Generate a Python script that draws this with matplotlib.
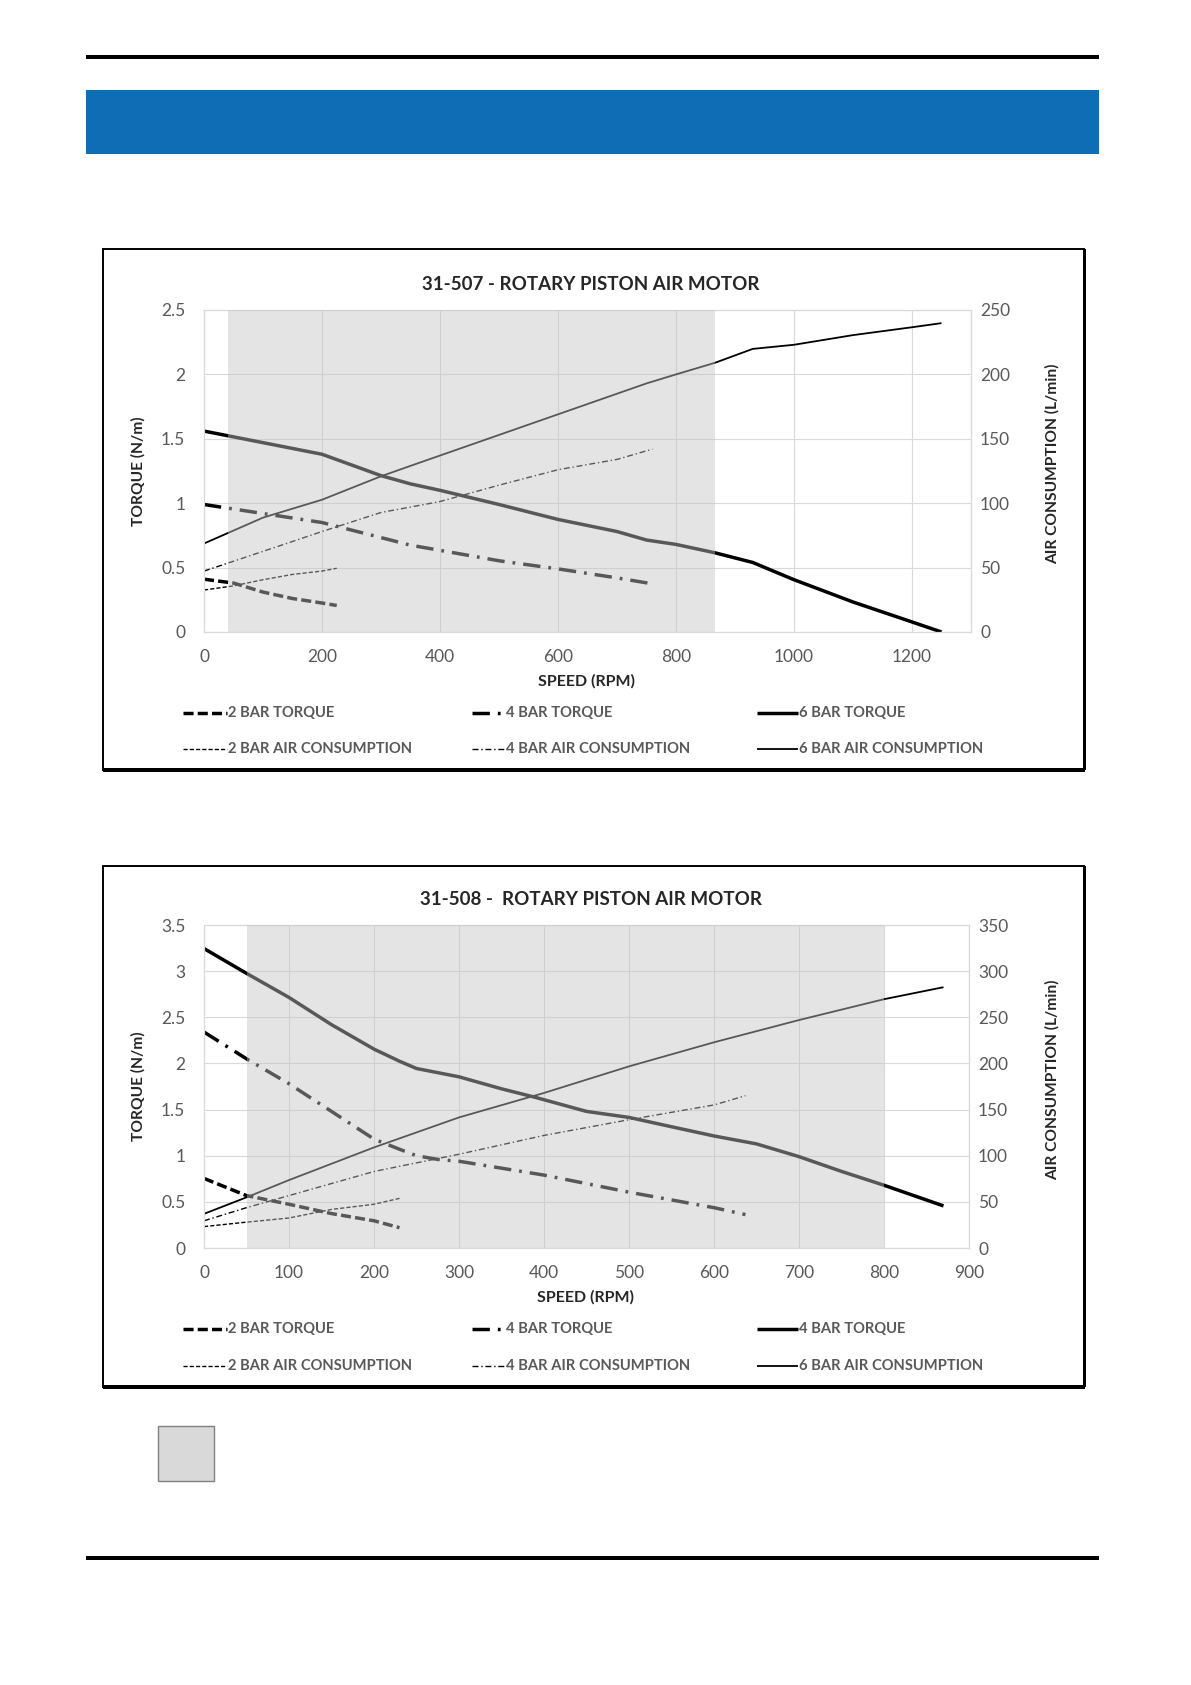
import matplotlib
matplotlib.use('Agg')
import matplotlib.pyplot as plt
from matplotlib.lines import Line2D
from matplotlib.patches import Rectangle

W, H = 1191, 1685

# ---- 31-507 data ----
speed_2bar_507 = [0, 50, 100, 150, 200, 225]
torque_2bar_507 = [0.41, 0.38, 0.31, 0.26, 0.225, 0.206]
air_2bar_507 = [32.6, 35.8, 40.6, 44.7, 47.3, 49.5]

speed_4bar_507 = [0, 100, 200, 300, 350, 400, 500, 600, 700, 760]
torque_4bar_507 = [0.99, 0.92, 0.85, 0.733, 0.674, 0.634, 0.553, 0.49, 0.42, 0.374]
air_4bar_507 = [47.3, 62.6, 78, 92.8, 97, 101.3, 114, 126, 134, 142]

speed_6bar_507 = [0, 100, 200, 300, 350, 400, 500, 600, 700, 750, 800, 866, 930, 1000, 1100, 1200, 1250]
torque_6bar_507 = [1.56, 1.47, 1.38, 1.214, 1.15, 1.10, 0.99, 0.874, 0.78, 0.714, 0.68, 0.615, 0.54,
                   0.406, 0.233, 0.078, 0.0]
air_6bar_507 = [68.7, 88.8, 102.7, 120.9, 129, 137, 153, 169, 185, 193, 200, 209, 219.8, 223,
                230.5, 236.6, 239.8]

# ---- 31-508 data ----
speed_2bar_508 = [0, 50, 100, 150, 200, 230]
torque_2bar_508 = [0.754, 0.568, 0.474, 0.373, 0.295, 0.22]
air_2bar_508 = [23.2, 28, 32.5, 41.8, 47.4, 53.8]

speed_4bar_508 = [0, 50, 100, 150, 200, 230, 250, 275, 300, 400, 500, 600, 637]
torque_4bar_508 = [2.34, 2.05, 1.78, 1.48, 1.18, 1.07, 1.0, 0.96, 0.94, 0.79, 0.605, 0.437, 0.362]
speed_4bar_air_508 = [0, 50, 100, 200, 300, 400, 500, 600, 637]
air_4bar_508 = [29.5, 43.7, 56.8, 82.9, 101.6, 122, 139, 155, 165]

speed_6bar_508 = [0, 50, 100, 150, 200, 230, 250, 300, 350, 390, 450, 500, 550, 600, 650, 700, 750, 800, 870]
torque_6bar_508 = [3.245, 2.976, 2.715, 2.42, 2.155, 2.024, 1.945, 1.855, 1.725, 1.632, 1.48, 1.415,
                   1.314, 1.214, 1.128, 0.99, 0.83, 0.68, 0.456]
speed_6bar_air_508 = [0, 50, 100, 200, 300, 400, 500, 600, 700, 800, 870]
air_6bar_508 = [37, 54.9, 73.6, 109, 141.5, 168, 196.8, 222.9, 247, 269.6, 282.6]

labels_507 = ['2 BAR TORQUE', '4 BAR TORQUE', '6 BAR TORQUE',
              '2 BAR AIR CONSUMPTION', '4 BAR AIR CONSUMPTION', '6 BAR AIR CONSUMPTION']
labels_508 = ['2 BAR TORQUE', '4 BAR TORQUE', '4 BAR TORQUE',
              '2 BAR AIR CONSUMPTION', '4 BAR AIR CONSUMPTION', '6 BAR AIR CONSUMPTION']

STYLES = [
    dict(lw=2.5, dashes=(2.9, 1.2)),
    dict(lw=2.5, dashes=(5, 2.3, 0.8, 2.3)),
    dict(lw=2.5, linestyle='-'),
    dict(lw=1.0, dashes=(3, 1.5)),
    dict(lw=1.0, dashes=(4.3, 2, 1, 2)),
    dict(lw=1.3, linestyle='-'),
]

GRID = '#D9D9D9'
TICK = '#595959'
DARK = '#262626'


def fx(px):
    return px / W


def fy(py):
    return 1 - py / H


def hline(fig, y, x0, x1, lw_px, color='black'):
    fig.add_artist(Rectangle((fx(x0), fy(y + lw_px / 2)), fx(x1) - fx(x0), lw_px / H,
                             transform=fig.transFigure, color=color, lw=0))


def draw_chart(fig, box, axrect, title, xmax, xstep, xtick_max, ymax, y2max, shade, series, labels,
               title_y, xlabel_y, legend_y):
    bx0, by0, bx1, by1 = box
    fig.add_artist(Rectangle((fx(bx0), fy(by1)), fx(bx1) - fx(bx0), (by1 - by0) / H,
                             transform=fig.transFigure, fill=False, ec='black', lw=1.4))
    # heavier bottom / right edge
    hline(fig, by1, bx0, bx1 + 1, 3.5)
    fig.add_artist(Rectangle((fx(bx1 - 1), fy(by1)), 2.5 / W, (by1 - by0) / H,
                             transform=fig.transFigure, color='black', lw=0))

    x0, y0, x1, y1 = axrect
    ax = fig.add_axes([fx(x0), fy(y1), fx(x1) - fx(x0), (y1 - y0) / H])
    ax2 = ax.twinx()

    for i in range(3):
        sp, tq = series[i]
        ax.plot(sp, tq, color='black', solid_capstyle='butt', dash_capstyle='butt', **STYLES[i])
    for i in range(3, 6):
        sp, ac = series[i]
        ax2.plot(sp, ac, color='black', solid_capstyle='butt', dash_capstyle='butt', **STYLES[i])

    ax.set_xlim(0, xmax)
    ax.set_ylim(0, ymax)
    ax2.set_ylim(0, y2max)
    ax.set_xticks(range(0, xtick_max + 1, xstep))
    ax.set_yticks([v * 0.5 for v in range(int(ymax * 2) + 1)])
    ax.set_yticklabels(['%g' % (v * 0.5) for v in range(int(ymax * 2) + 1)])
    ax2.set_yticks(range(0, int(y2max) + 1, 50))

    ax.set_axisbelow(True)
    ax.grid(True, color=GRID, lw=0.8)
    for a in (ax, ax2):
        for s in a.spines.values():
            s.set_color(GRID)
            s.set_linewidth(0.8)
        a.tick_params(length=0, colors=TICK, labelsize=12.5)
    ax.tick_params(axis='y', pad=13.5)
    ax.tick_params(axis='x', pad=12)
    ax2.tick_params(axis='y', pad=6.5)

    # translucent shaded operating band over the curves
    ax2.axvspan(shade[0], shade[1], color=(197 / 255, 197 / 255, 197 / 255), alpha=0.45, lw=0, zorder=10)

    wid = x1 - x0
    hgt = y1 - y0
    ax.set_ylabel('TORQUE (N/m)', fontsize=11.2, fontweight='bold', color=DARK)
    ax.yaxis.set_label_coords((146 - x0) / wid, 0.5)
    ax2.set_ylabel('AIR CONSUMPTION (L/min)', fontsize=11.2, fontweight='bold', color=DARK,
                   rotation=90)
    ax2.yaxis.set_label_coords((1045 - x0) / wid, 0.5 + 7 / hgt)

    fig.text(fx((bx0 + bx1) / 2 - 3), fy(title_y), title, ha='center', va='center',
             fontsize=13.5, fontweight='bold', color=DARK)
    fig.text(fx(x0 + (x1 - x0) * 0.5 - 1), fy(xlabel_y), 'SPEED (RPM)', ha='center', va='center',
             fontsize=11.5, fontweight='bold', color=DARK)

    # legend, Excel style: three columns, two rows
    col_line = [183, 472, 757]
    col_len = [44, 33, 41]
    for i, lab in enumerate(labels):
        row, col = divmod(i, 3)
        ly = fy(legend_y[row])
        lx0 = col_line[col]
        lx1 = lx0 + col_len[col]
        fig.add_artist(Line2D([fx(lx0), fx(lx1)], [ly, ly], transform=fig.transFigure,
                              color='black', dash_capstyle='butt', solid_capstyle='butt', **STYLES[i]))
        fig.text(fx(lx1 + 1), ly, lab, ha='left', va='center', fontsize=10.6,
                 fontweight='bold', color=TICK)
    return ax, ax2


def main():
    plt.rcParams['font.family'] = ['Lato', 'DejaVu Sans']
    fig = plt.figure(figsize=(W / 100, H / 100), dpi=100)

    # page header
    hline(fig, 57, 86, 1099, 3.5)
    fig.add_artist(Rectangle((fx(86), fy(154)), fx(1099) - fx(86), (154 - 90) / H,
                             transform=fig.transFigure, color='#0F6DB5', lw=0))

    series_507 = [(speed_2bar_507, torque_2bar_507), (speed_4bar_507, torque_4bar_507),
                  (speed_6bar_507, torque_6bar_507), (speed_2bar_507, air_2bar_507),
                  (speed_4bar_507, air_4bar_507), (speed_6bar_507, air_6bar_507)]
    draw_chart(fig, (103, 249, 1084, 770), (204, 310, 971, 632), '31-507 - ROTARY PISTON AIR MOTOR',
               1300, 200, 1200, 2.5, 250, (40, 866), series_507, labels_507,
               284, 681, (713, 749))

    series_508 = [(speed_2bar_508, torque_2bar_508), (speed_4bar_508, torque_4bar_508),
                  (speed_6bar_508, torque_6bar_508), (speed_2bar_508, air_2bar_508),
                  (speed_4bar_air_508, air_4bar_508), (speed_6bar_air_508, air_6bar_508)]
    draw_chart(fig, (103, 866, 1084, 1387), (204, 925, 969, 1248), '31-508 -  ROTARY PISTON AIR MOTOR',
               900, 100, 900, 3.5, 350, (50, 800), series_508, labels_508,
               899, 1297, (1329, 1366))

    # shaded-area key
    fig.add_artist(Rectangle((fx(158), fy(1481)), fx(214) - fx(158), (1481 - 1426) / H,
                             transform=fig.transFigure, fc='#D9D9D9', ec='#808080', lw=1))

    hline(fig, 1558, 86, 1099, 4.5)

    fig.savefig('out.png', dpi=100)
    plt.close(fig)


if __name__ == '__main__':
    main()
